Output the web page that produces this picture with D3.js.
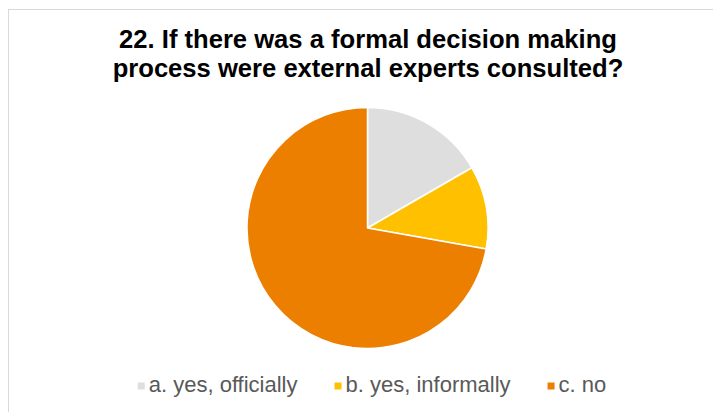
<!DOCTYPE html>
<html>
<head>
<meta charset="utf-8">
<script src="https://cdn.jsdelivr.net/npm/d3@7"></script>
<style>
  html, body { margin: 0; padding: 0; background: #fff; }
  svg { display: block; font-family: "Liberation Sans", Arial, sans-serif; }
</style>
</head>
<body>
<svg id="chart" width="713" height="412"></svg>
<script>
// Survey answers and their response shares
const categories = ["a. yes, officially", "b. yes, informally", "c. no"];
const values = [3, 2, 13];
const colors = ["#dedede", "#ffc000", "#ec7e00"];
const titleLines = ["22. If there was a formal decision making", "process were external experts consulted?"];

const svg = d3.select("#chart");
const W = 713, H = 412;

// chart area frame
svg.append("rect")
  .attr("x", 8.5).attr("y", 9.5)
  .attr("width", W + 10).attr("height", H + 10)
  .attr("fill", "#fff")
  .attr("stroke", "#d9d9d9").attr("stroke-width", 1);

// title
const title = svg.append("text")
  .attr("text-anchor", "middle")
  .attr("font-weight", "bold")
  .attr("font-size", 25.6)
  .attr("fill", "#000");
titleLines.forEach((t, i) => {
  title.append("tspan").attr("x", 368).attr("y", 48 + i * 29).text(t);
});

// pie
const cx = 367.5, cy = 228, r = 120.5;
const pie = d3.pie().sort(null).value(d => d);
const arc = d3.arc().innerRadius(0).outerRadius(r);
const g = svg.append("g").attr("transform", `translate(${cx},${cy})`);
g.selectAll("path")
  .data(pie(values))
  .join("path")
  .attr("d", arc)
  .attr("fill", (d, i) => colors[i])
  .attr("stroke", "#fff")
  .attr("stroke-width", 1.5)
  .attr("stroke-linejoin", "round");

// legend
const legend = svg.append("g");
const fontSize = 22, marker = 7, gapMarker = 4, gapItem = 37;
const items = legend.selectAll("g.item")
  .data(categories)
  .join("g").attr("class", "item");
items.append("rect")
  .attr("width", marker).attr("height", marker)
  .attr("y", -marker / 2)
  .attr("fill", (d, i) => colors[i]);
items.append("text")
  .attr("x", marker + gapMarker)
  .attr("y", 5.5)
  .attr("font-size", fontSize)
  .attr("fill", "#595959")
  .text(d => d);
const widths = [];
items.each(function () { widths.push(this.getBBox().width); });
const total = d3.sum(widths) + gapItem * (widths.length - 1);
let x = 372 - total / 2;
items.attr("transform", (d, i) => {
  const t = `translate(${x},386)`;
  x += widths[i] + gapItem;
  return t;
});
</script>
</body>
</html>
